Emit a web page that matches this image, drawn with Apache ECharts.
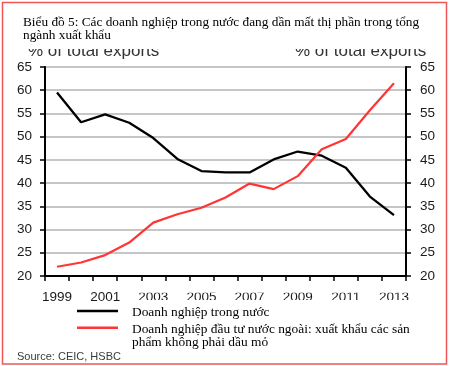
<!DOCTYPE html>
<html>
<head>
<meta charset="utf-8">
<script src="https://cdn.jsdelivr.net/npm/echarts@6/dist/echarts.min.js"></script>
<style>
html,body{margin:0;padding:0;background:#fff;}
#c{width:450px;height:366px;}
</style>
</head>
<body>
<div id="c"></div>
<script>
const years = ['1999','2000','2001','2002','2003','2004','2005','2006','2007','2008','2009','2010','2011','2012','2013'];
const domestic = [59.5, 53.1, 54.8, 53.0, 49.7, 45.2, 42.6, 42.3, 42.3, 45.1, 46.8, 45.9, 43.3, 37.1, 33.1];
const foreign = [22.0, 22.9, 24.5, 27.2, 31.5, 33.3, 34.7, 36.9, 39.9, 38.7, 41.5, 47.3, 49.5, 55.7, 61.5];
const seriesNames = ['Doanh nghiệp trong nước', 'Doanh nghiệp đầu tư nước ngoài: xuất khẩu các sản\nphẩm không phải dầu mỏ'];
const titleLines = ['Biểu đồ 5: Các doanh nghiệp trong nước đang dần mất thị phần trong tổng', 'ngành xuất khẩu'];
const axisTitle = '% of total exports';
const sourceText = 'Source: CEIC, HSBC';

const chart = echarts.init(document.getElementById('c'), null, {renderer: 'canvas'});
const sans = 'Liberation Sans, Arial, sans-serif';
const serif = 'Liberation Serif, Times New Roman, serif';
const yAxisBase = {
  type: 'value', min: 20, max: 65, interval: 5,
  axisLine: {show: true, lineStyle: {color: '#000', width: 2}},
  axisTick: {show: true, length: 5, lineStyle: {color: '#000', width: 1.5}},
  axisLabel: {color: '#1a1a1a', fontFamily: sans, fontSize: 13.5, margin: 13}
};
chart.setOption({
  animation: false,
  backgroundColor: '#fff',
  grid: {left: 45, right: 44, top: 67, bottom: 90, containLabel: false},
  xAxis: {
    type: 'category', data: years, boundaryGap: true,
    axisLine: {lineStyle: {color: '#000', width: 2}},
    axisTick: {show: true, interval: 0, length: 5, lineStyle: {color: '#000', width: 1.5}},
    axisLabel: {interval: 1, color: '#1a1a1a', fontFamily: sans, fontSize: 13.5, margin: 14},
    splitLine: {show: false}
  },
  yAxis: [
    Object.assign({}, yAxisBase, {position: 'left', splitLine: {show: true, lineStyle: {color: '#c6c6c6', width: 1.8}}}),
    Object.assign({}, yAxisBase, {position: 'right', splitLine: {show: false}, axisLabel: Object.assign({}, yAxisBase.axisLabel, {margin: 14})})
  ],
  series: [
    {name: seriesNames[0], type: 'line', data: domestic, yAxisIndex: 0, symbol: 'none', smooth: false,
     lineStyle: {color: '#000', width: 2.3}, z: 3},
    {name: seriesNames[1], type: 'line', data: foreign, yAxisIndex: 0, symbol: 'none', smooth: false,
     lineStyle: {color: '#ff3535', width: 2.2}, z: 4}
  ],
  graphic: [
    {type: 'text', z: 10, x: 28, y: 51.5, style: {text: axisTitle, fontFamily: sans, fontSize: 17, fill: '#333', verticalAlign: 'middle'}},
    {type: 'text', z: 10, x: 295, y: 51.5, style: {text: axisTitle, fontFamily: sans, fontSize: 17, fill: '#333', verticalAlign: 'middle'}},
    {type: 'rect', z: 20, shape: {x: 0, y: 0, width: 450, height: 49}, style: {fill: '#fff'}},
    {type: 'rect', z: 20, shape: {x: 128, y: 283, width: 300, height: 9.7}, style: {fill: '#fff'}},
    {type: 'rect', z: 20, shape: {x: 128, y: 300, width: 300, height: 6}, style: {fill: '#fff'}},
    {type: 'text', z: 30, x: 23, y: 22.5, style: {text: titleLines[0], fontFamily: serif, fontSize: 13.3, fill: '#000', verticalAlign: 'middle'}},
    {type: 'text', z: 30, x: 23, y: 35.7, style: {text: titleLines[1], fontFamily: serif, fontSize: 13.3, fill: '#000', verticalAlign: 'middle'}},
    {type: 'line', z: 30, shape: {x1: 77, y1: 311, x2: 118, y2: 311}, style: {stroke: '#000', lineWidth: 2.5}},
    {type: 'line', z: 30, shape: {x1: 77, y1: 327.7, x2: 118, y2: 327.7}, style: {stroke: '#ff3535', lineWidth: 2.5}},
    {type: 'text', z: 30, x: 132, y: 312.5, style: {text: seriesNames[0], fontFamily: serif, fontSize: 13.4, fill: '#000', verticalAlign: 'middle'}},
    {type: 'text', z: 30, x: 132, y: 329, style: {text: seriesNames[1].split('\n')[0], fontFamily: serif, fontSize: 13.4, fill: '#000', verticalAlign: 'middle'}},
    {type: 'text', z: 30, x: 132, y: 342.5, style: {text: seriesNames[1].split('\n')[1], fontFamily: serif, fontSize: 13.4, fill: '#000', verticalAlign: 'middle'}},
    {type: 'text', z: 30, x: 17, y: 357, style: {text: sourceText, fontFamily: sans, fontSize: 11, fill: '#3a3a3a', verticalAlign: 'middle'}},
    {type: 'rect', z: 40, shape: {x: 2.5, y: 2.5, width: 444, height: 361.5}, style: {fill: 'none', stroke: '#f05555', lineWidth: 1.5}}
  ]
});
</script>
</body>
</html>
